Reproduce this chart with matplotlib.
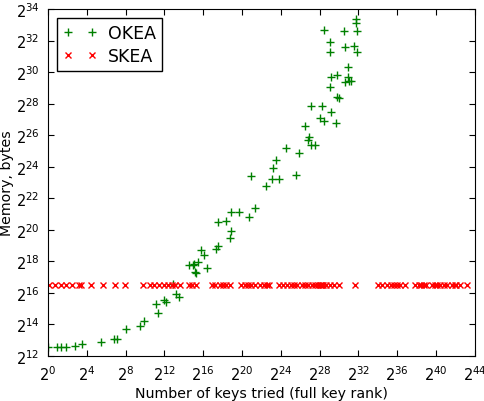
import numpy as np
import matplotlib
matplotlib.use('Agg')
import matplotlib.pyplot as plt
from matplotlib.ticker import FuncFormatter

# log2 of keys tried / memory (bytes)
okea_keys_log2 = [0.0, 0.9, 1.4, 1.9, 2.8, 3.5, 5.5, 6.8, 7.15, 8.0, 9.5, 9.9,
                  11.1, 11.3, 12.0, 12.2, 12.85, 13.2, 13.5, 14.5, 15.0, 15.1,
                  15.2, 15.3, 15.5, 15.8, 16.1, 16.4, 17.3, 17.5, 17.5, 18.4,
                  18.8, 18.9, 18.9, 19.7, 20.7, 20.9, 21.3, 22.5, 23.1, 23.2,
                  23.5, 23.8, 24.5, 25.6, 25.9, 26.5, 26.8, 26.9, 27.1, 27.1,
                  27.5, 28.0, 28.2, 28.5, 28.5, 29.1, 29.1, 29.1, 29.2, 29.2,
                  29.7, 29.8, 29.8, 30.0, 30.5, 30.6, 30.6, 30.9, 30.9, 31.0,
                  31.2, 31.5, 31.75, 31.8, 31.9, 31.9]
okea_mem_log2 = [12.6, 12.6, 12.6, 12.6, 12.65, 12.75, 12.87, 13.08, 13.08, 13.7,
                 13.9, 14.2, 15.3, 14.7, 15.55, 15.45, 16.55, 15.9, 15.75, 17.8,
                 17.8, 17.85, 17.3, 17.25, 17.95, 18.7, 18.4, 17.6, 18.8, 19.0,
                 20.5, 20.55, 19.5, 19.95, 21.1, 21.1, 20.8, 23.4, 21.4, 22.8,
                 23.2, 23.9, 24.4, 23.2, 25.2, 23.5, 24.9, 26.6, 25.7, 25.9,
                 25.4, 27.85, 25.4, 27.1, 27.85, 26.9, 32.7, 29.05, 31.25, 31.9,
                 27.5, 29.7, 26.8, 29.8, 28.4, 28.35, 32.6, 31.6, 29.4, 29.7,
                 30.3, 29.45, 29.45, 31.65, 33.1, 33.35, 31.25, 32.6]

skea_keys_log2 = [0.15, 0.7, 1.3, 1.9, 2.45, 3.2, 3.45, 4.4, 5.7, 6.9, 7.9,
                  9.8, 10.5, 10.9, 11.5, 11.95, 12.4, 12.75, 13.1, 13.6, 14.5,
                  14.9, 15.3, 16.9, 17.2, 17.7, 18.0, 18.4, 18.8, 19.95, 20.3,
                  20.6, 20.95, 21.3, 21.85, 22.3, 22.6, 22.8, 23.8, 24.2, 24.6,
                  25.1, 25.4, 25.7, 26.2, 26.5, 26.85, 27.2, 27.5, 27.8, 28.0,
                  28.1, 28.2, 28.4, 28.65, 29.1, 29.5, 30.0, 31.65, 34.05, 34.4,
                  34.9, 35.4, 35.7, 35.95, 36.3, 36.8, 37.8, 38.2, 38.5, 38.8,
                  39.0, 39.6, 39.9, 40.1, 40.4, 40.8, 41.1, 41.6, 41.95, 42.1,
                  42.5, 43.2]
skea_mem_log2 = [16.5] * len(skea_keys_log2)

okea_keys = 2.0 ** np.array(okea_keys_log2)
okea_mem = 2.0 ** np.array(okea_mem_log2)
skea_keys = 2.0 ** np.array(skea_keys_log2)
skea_mem = 2.0 ** np.array(skea_mem_log2)

plt.rcParams['font.family'] = 'DejaVu Sans'
plt.rcParams['mathtext.default'] = 'regular'

fig = plt.figure(figsize=(4.84, 4.02), dpi=100)
ax = fig.add_axes([0.099, 0.112, 0.882, 0.863])

ax.plot(okea_keys, okea_mem, '+', color=(0, 0.5, 0), markersize=5.5, mew=1, label='OKEA')
ax.plot(skea_keys, skea_mem, 'x', color='red', markersize=5, mew=1, label='SKEA')

ax.set_xscale('log', base=2)
ax.set_yscale('log', base=2)
ax.set_xlim(2.0 ** 0, 2.0 ** 44)
ax.set_ylim(2.0 ** 12, 2.0 ** 34)
ax.set_xticks(2.0 ** np.arange(0, 45, 4))
ax.set_yticks(2.0 ** np.arange(12, 35, 2))
ax.minorticks_off()
fmt = FuncFormatter(lambda v, pos: r'$2^{%d}$' % round(np.log2(v)))
ax.xaxis.set_major_formatter(fmt)
ax.yaxis.set_major_formatter(fmt)
ax.tick_params(which='both', direction='in', top=True, right=True, length=4,
               labelsize=10.5, pad=6)

ax.set_xlabel('Number of keys tried (full key rank)', fontsize=10.2, labelpad=2)
ax.set_ylabel('Memory, bytes', fontsize=10.2, labelpad=1)

leg = ax.legend(loc='upper left', numpoints=2, fancybox=False, fontsize=12.5,
                framealpha=1, edgecolor='black', borderaxespad=0.5,
                handletextpad=0.6, labelspacing=0.3, borderpad=0.35)
leg.get_frame().set_linewidth(1)

plt.savefig('out.png', dpi=100)
